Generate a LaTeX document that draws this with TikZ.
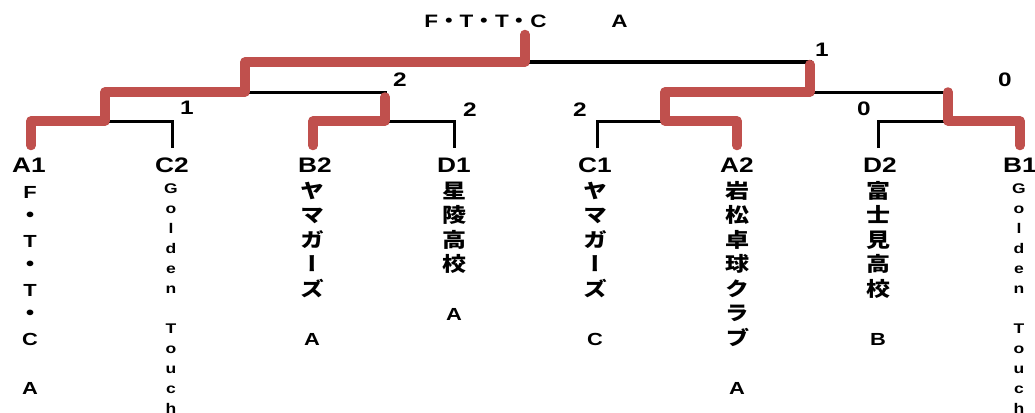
\documentclass[tikz,border=0pt]{standalone}
\usepackage{fontspec}
\newfontfamily\latf[FakeStretch=1.25]{Liberation Sans}
\newfontfamily\jpf[FakeStretch=1.2,RawFeature=+vert]{Noto Sans CJK JP}
\newcommand\lc[1]{{\latf\bfseries\fontsize{17.5}{24.5}\selectfont #1}}
\newcommand\jpcol{\jpf\bfseries\fontsize{20}{24.5}\selectfont}
\newcommand\gtcol{\latf\bfseries\fontsize{14}{20}\selectfont}
\newcommand\ttl[1]{{\latf\bfseries\fontsize{18}{20}\selectfont #1}}
\newcommand\ttj[1]{{\jpf\bfseries\fontsize{18}{20}\selectfont #1}}
\definecolor{redline}{RGB}{192,80,77}
\begin{document}
\begin{tikzpicture}[x=1pt,y=-1pt,
  bk/.style={line width=3pt, black},
  rd/.style={line width=9.5pt, redline, line cap=round, line join=round,
    preaction={draw=black, opacity=0.18, transform canvas={shift={(0.8pt,-1.6pt)}}}},
  score/.style={font=\latf\bfseries\fontsize{19.5}{20}\selectfont, inner sep=0pt},
  leaf/.style={font=\latf\bfseries\fontsize{21}{24}\selectfont, inner sep=0pt, anchor=base},
  jcol/.style={font=\jpcol, align=center, inner sep=0pt, anchor=north},
  gcol/.style={font=\gtcol, align=center, inner sep=0pt, anchor=north},
  ttlstyle/.style={inner sep=0pt, anchor=base}]
\useasboundingbox (0,0) rectangle (1035,412);
\fill[white] (0,0) rectangle (1035,412);
% bracket points
\coordinate (a1) at (31,148);
\coordinate (c2) at (172,148);
\coordinate (b2) at (313,148);
\coordinate (d1) at (454,148);
\coordinate (c1) at (597,148);
\coordinate (a2) at (737,148);
\coordinate (d2) at (878,148);
\coordinate (b1) at (1020,148);
\coordinate (m1) at (105,121);
\coordinate (m2) at (385,121);
\coordinate (m3) at (665,121);
\coordinate (m4) at (948,121);
\coordinate (s1) at (245,92);
\coordinate (s2) at (810,92);
\coordinate (f) at (525,62);
\coordinate (top) at (525,32);
% black bracket
\draw[bk] (a1) |- (m1) -| (c2);
\draw[bk] (b2) |- (m2) -| (d1);
\draw[bk] (c1) |- (m3) -| (a2);
\draw[bk] (d2) |- (m4) -| (b1);
\draw[bk] (m1) |- (s1) -| (m2);
\draw[bk] (m3) |- (s2) -| (m4);
\draw[bk] (s1) |- (f) -| (s2);
\draw[bk] (f) -- (top);
% red winners
\draw[rd, shorten <=2.5pt, shorten >=2.5pt] (a1) |- (m1) |- (s1) |- (f) -- (top);
\draw[rd, shorten <=2.5pt, shorten >=5pt] (b2) |- (m2) -- (m2 |- s1);
\draw[rd, shorten <=2.5pt, shorten >=2.5pt] (a2) |- (m3) |- (s2) -- (s2 |- f);
\draw[rd, shorten <=2.5pt] (b1) |- (m4) -- (m4 |- s2);
% title
\node[ttlstyle] (title) at (526,28) {\ttl{F}\ttj{・}\ttl{T}\ttj{・}\ttl{T}\ttj{・}\ttl{C}\ttj{　　　}\ttl{A}};
% scores
\node[score] (sc1) at (187,108) {1};
\node[score] (sc2) at (400,80) {2};
\node[score] (sc3) at (470,110) {2};
\node[score] (sc4) at (580,110) {2};
\node[score] (sc5) at (822,50) {1};
\node[score] (sc6) at (1005,80) {0};
\node[score] (sc7) at (864,109) {0};
% leaf labels
\node[leaf] (la1) at (29,172) {A1};
\node[leaf] (lc2) at (172,172) {C2};
\node[leaf] (lb2) at (315,172) {B2};
\node[leaf] (ld1) at (454,172) {D1};
\node[leaf] (lc1) at (595,172) {C1};
\node[leaf] (la2) at (737,172) {A2};
\node[leaf] (ld2) at (880,172) {D2};
\node[leaf] (lb1) at (1020,172) {B1};
% team names (vertical)
\node[jcol] (ta1) at (30,179) {\rule{0pt}{19pt}\lc{F}\\・\\\lc{T}\\・\\\lc{T}\\・\\\lc{C}\\\mbox{}\\\lc{A}};
\node[gcol] (tc2) at (171,177) {\rule{0pt}{16pt}G\\o\\l\\d\\e\\n\\\mbox{}\\T\\o\\u\\c\\h};
\node[jcol] (tb2) at (312,179) {\rule{0pt}{19pt}ヤ\\マ\\ガ\\ー\\ズ\\\mbox{}\\\lc{A}};
\node[jcol] (td1) at (454,179) {\rule{0pt}{19pt}星\\陵\\高\\校\\\mbox{}\\\lc{A}};
\node[jcol] (tc1) at (595,179) {\rule{0pt}{19pt}ヤ\\マ\\ガ\\ー\\ズ\\\mbox{}\\\lc{C}};
\node[jcol] (ta2) at (737,179) {\rule{0pt}{19pt}岩\\松\\卓\\球\\ク\\ラ\\ブ\\\mbox{}\\\lc{A}};
\node[jcol] (td2) at (878,179) {\rule{0pt}{19pt}富\\士\\見\\高\\校\\\mbox{}\\\lc{B}};
\node[gcol] (tb1) at (1019,177) {\rule{0pt}{16pt}G\\o\\l\\d\\e\\n\\\mbox{}\\T\\o\\u\\c\\h};
\end{tikzpicture}
\end{document}
